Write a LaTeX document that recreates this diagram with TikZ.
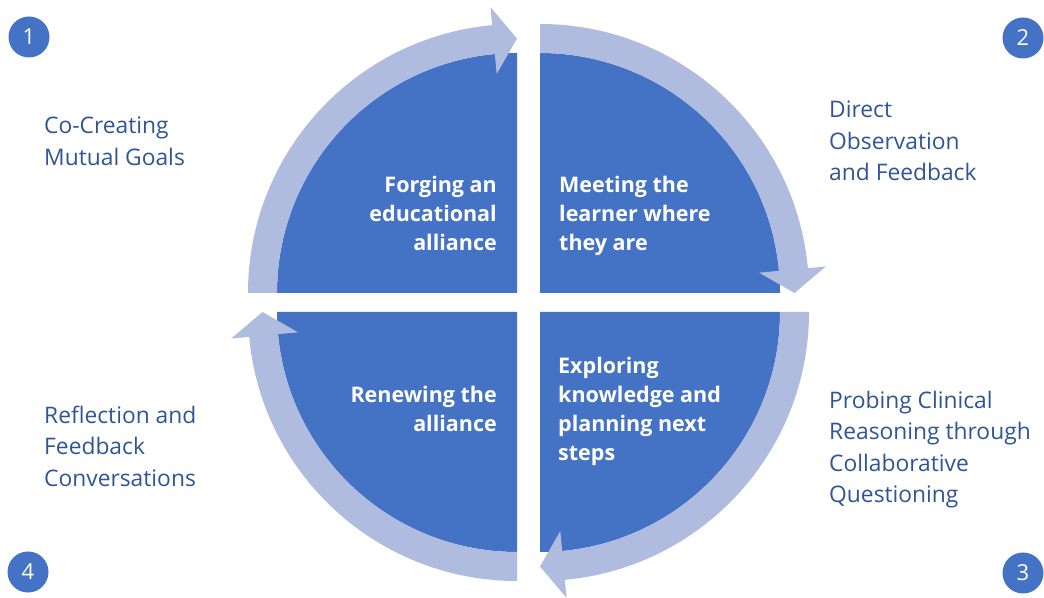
\documentclass[tikz,border=0pt]{standalone}
\usepackage{fontspec}
\setmainfont{Open Sans}
\definecolor{quadblue}{HTML}{4472C4}
\definecolor{bandblue}{HTML}{AFBCDF}
\definecolor{labelblue}{HTML}{2F5597}

% curved band arrow around one quadrant, running clockwise through 90 degrees
% #1 centre coordinate, #2 start angle
\newcommand\bandarrow[2]{%
  \pgfmathsetmacro\arrtip{#2-90}%
  \pgfmathsetmacro\arrbase{#2-90+5.3}%
  \fill[bandblue]
    ([shift={(#2:269)}]#1) arc[start angle=#2, end angle=\arrbase, radius=269]
    -- ([shift={(\arrbase:287)}]#1)
    -- ([shift={(\arrtip:254.5)}]#1)
    -- ([shift={(\arrbase:220)}]#1)
    -- ([shift={(\arrbase:240)}]#1)
    arc[start angle=\arrbase, end angle=#2, radius=240] -- cycle;
}
% filled quarter disc
\newcommand\quarterdisc[2]{%
  \fill[quadblue] (#1) -- ([shift={(#2:240)}]#1)
    arc[start angle=#2, end angle=#2-90, radius=240] -- cycle;
}

\begin{document}
\begin{tikzpicture}[x=1pt,y=1pt,
  outer/.style={inner sep=0pt, text=labelblue, align=left,
    font=\fontsize{22.8}{31.5}\selectfont},
  inner/.style={inner sep=0pt, text=white,
    font=\fontsize{21.5}{29}\selectfont\bfseries},
  numdot/.style={circle, fill=quadblue, minimum size=41pt, inner sep=0pt,
    text=white, font=\fontsize{22}{22}\selectfont}]
\useasboundingbox (0,0) rectangle (1044,597);
\fill[white] (0,0) rectangle (1044,597);

\coordinate (ctl) at (517,304);
\coordinate (ctr) at (540,304);
\coordinate (cbr) at (540,285);
\coordinate (cbl) at (517,285);

\quarterdisc{ctl}{180}
\quarterdisc{ctr}{90}
\quarterdisc{cbr}{0}
\quarterdisc{cbl}{-90}

\bandarrow{ctl}{180}
\bandarrow{ctr}{90}
\bandarrow{cbr}{0}
\bandarrow{cbl}{-90}

% quadrant titles
\node[inner, anchor=east, align=right] (forge) at (497,384) {Forging an\\educational\\alliance};
\node[inner, anchor=west, align=left] (meet) at (559,381) {Meeting the\\learner where\\they are};
\node[inner, anchor=east, align=right] (renew) at (497,188.5) {Renewing the\\alliance};
\node[inner, anchor=west, align=left] (explore) at (558,185.5) {Exploring\\knowledge and\\planning next\\steps};

% practices beside each quadrant
\node[outer, anchor=west] (goals) at (44,455.5) {Co-Creating\\Mutual Goals};
\node[outer, anchor=west] (observe) at (829,456) {Direct\\Observation\\and Feedback};
\node[outer, anchor=west] (probe) at (829,147.5) {Probing Clinical\\Reasoning through\\Collaborative\\Questioning};
\node[outer, anchor=west] (reflect) at (44,151) {Reflection and\\Feedback\\Conversations};

% step numbers
\node[numdot] (n1) at (29,560) {1};
\node[numdot] (n2) at (1023,559) {2};
\node[numdot] (n3) at (1023,24) {3};
\node[numdot] (n4) at (28,25) {4};
\end{tikzpicture}
\end{document}
